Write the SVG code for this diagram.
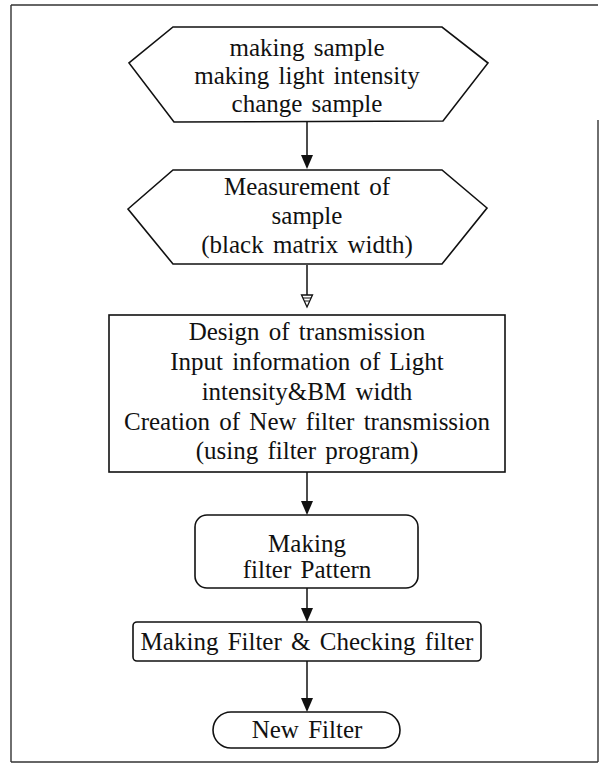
<svg xmlns="http://www.w3.org/2000/svg" width="603" height="764" viewBox="0 0 603 764">
<style>
.shape{fill:#fff;stroke:#111;stroke-width:1.6}
.t{font-family:"Liberation Serif","Times New Roman",serif;font-size:25px;fill:#111;text-anchor:middle;word-spacing:3px}
.conn{stroke:#111;stroke-width:1.5;fill:none}
.frame{stroke:#333;stroke-width:1.4;fill:none}
</style>
<rect width="603" height="764" fill="#fff"/>
<g id="frame">
<line class="frame" x1="11" y1="5" x2="598" y2="5" stroke-width="2"/>
<line class="frame" x1="11" y1="5" x2="11" y2="762" stroke="#777"/>
<line class="frame" x1="598" y1="120" x2="598" y2="762" stroke="#666"/>
<line class="frame" x1="11" y1="762" x2="598" y2="762" stroke-width="1.8"/>
</g>
<g id="connectors">
<line class="conn" x1="307" y1="122" x2="307" y2="156"/>
<path d="M301,155 L313,155 L307,169 Z" fill="#111"/>
<line class="conn" x1="307" y1="265" x2="307" y2="296"/>
<path d="M301.5,295 L312.5,295 L307,307 Z" fill="#fff" stroke="#111" stroke-width="1.3"/>
<path d="M303,298 L311,298 M304.5,301 L309.5,301" stroke="#111" stroke-width="1"/>
<line class="conn" x1="307" y1="472" x2="307" y2="502"/>
<path d="M301,501 L313,501 L307,515 Z" fill="#111"/>
<line class="conn" x1="307" y1="588" x2="307" y2="609"/>
<path d="M301,608 L313,608 L307,622 Z" fill="#111"/>
<line class="conn" x1="307" y1="661" x2="307" y2="699"/>
<path d="M301,698 L313,698 L307,712 Z" fill="#111"/>
</g>
<g id="node1">
<polygon class="shape" points="173,27 442,27 488,63 443,121 174,122 129,63"/>
<text class="t" x="307" y="56">making sample</text>
<text class="t" x="307" y="84">making light intensity</text>
<text class="t" x="307" y="112">change sample</text>
</g>
<g id="node2">
<polygon class="shape" points="173,170 442,170 487,208 442,264 173,264 128,209"/>
<text class="t" x="307" y="195">Measurement of</text>
<text class="t" x="307" y="224">sample</text>
<text class="t" x="307" y="253">(black matrix width)</text>
</g>
<g id="node3">
<rect class="shape" x="109" y="315" width="396" height="157"/>
<text class="t" x="307" y="340">Design of transmission</text>
<text class="t" x="307" y="370">Input information of Light</text>
<text class="t" x="307" y="400">intensity&amp;BM width</text>
<text class="t" x="307" y="430">Creation of New filter transmission</text>
<text class="t" x="307" y="459">(using filter program)</text>
</g>
<g id="node4">
<rect class="shape" x="195" y="515" width="223" height="73" rx="12"/>
<text class="t" x="307" y="552">Making</text>
<text class="t" x="307" y="578">filter Pattern</text>
</g>
<g id="node5">
<rect class="shape" x="133" y="622" width="348" height="39" rx="4"/>
<text class="t" x="307" y="650">Making Filter &amp; Checking filter</text>
</g>
<g id="node6">
<rect class="shape" x="213" y="712" width="187" height="36" rx="18"/>
<text class="t" x="307" y="738">New Filter</text>
</g>
</svg>
